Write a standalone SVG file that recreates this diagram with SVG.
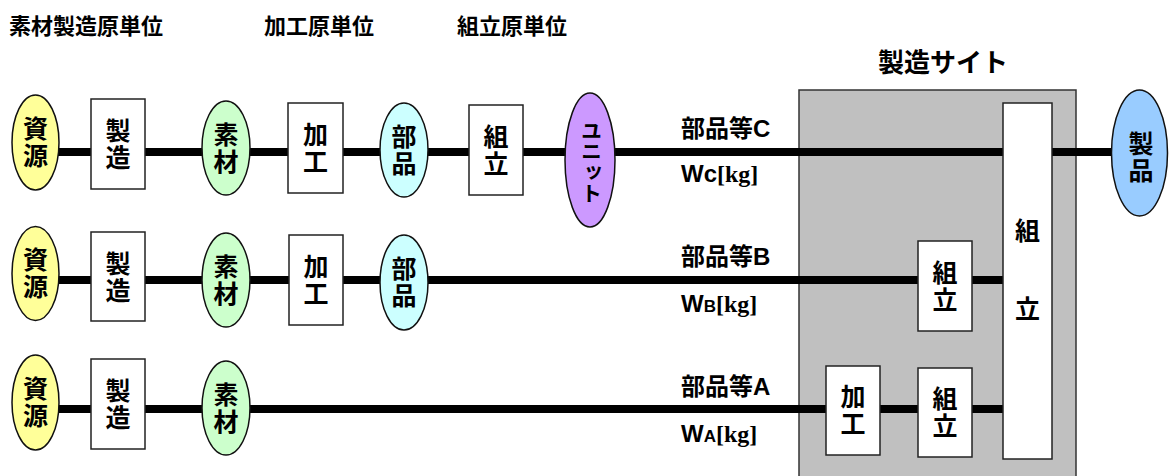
<svg xmlns="http://www.w3.org/2000/svg" width="1170" height="476" viewBox="0 0 1170 476">
<style>
.h{font-family:"Liberation Sans","Noto Sans CJK JP",sans-serif;font-weight:bold;font-size:22px;fill:#000}
.t{font-family:"Liberation Sans","Noto Sans CJK JP",sans-serif;font-weight:bold;font-size:25px;fill:#000;text-anchor:middle;dominant-baseline:central}
.l{font-family:"Liberation Sans","Noto Sans CJK JP",sans-serif;font-weight:bold;font-size:24px;fill:#000}
.kg{font-family:"Liberation Serif",serif;font-weight:bold}
.box{fill:#fff;stroke:#222;stroke-width:1.5}
.ov{stroke:#111;stroke-width:1.5}
.c{stroke:#000;stroke-width:8;fill:none}
</style>
<rect id="site" x="799" y="90" width="277" height="400" fill="#c0c0c0" stroke="#333" stroke-width="1.5"/>
<text class="h" x="9" y="34">素材製造原単位</text>
<text class="h" x="264" y="34">加工原単位</text>
<text class="h" x="457" y="34">組立原単位</text>
<text class="t" x="943" y="63" style="font-size:26px">製造サイト</text>
<g id="connectors">
<line class="c" x1="35" y1="152" x2="1139" y2="152"/>
<line class="c" x1="35" y1="280" x2="1003" y2="280"/>
<line class="c" x1="35" y1="409" x2="1003" y2="409"/>
</g>
<text class="l" x="681" y="137">部品等C</text>
<text class="l" x="681" y="182">Wc<tspan class="kg">[kg]</tspan></text>
<text class="l" x="681" y="265">部品等B</text>
<text class="l" x="681" y="312">W<tspan style="font-size:17px">B</tspan><tspan class="kg">[kg]</tspan></text>
<text class="l" x="681" y="395">部品等A</text>
<text class="l" x="681" y="442">W<tspan style="font-size:17px">A</tspan><tspan class="kg">[kg]</tspan></text>
<g id="r1-shigen"><ellipse class="ov" cx="35.5" cy="142.5" rx="23.5" ry="47.5" fill="#ffff99"/><text class="t" x="35.5" y="129">資</text><text class="t" x="35.5" y="156">源</text></g>
<g id="r1-seizo"><rect class="box" x="91" y="99" width="54" height="90"/><text class="t" x="118" y="131">製</text><text class="t" x="118" y="158">造</text></g>
<g id="r1-sozai"><ellipse class="ov" cx="226" cy="148" rx="24" ry="47" fill="#ccffcc"/><text class="t" x="226" y="135">素</text><text class="t" x="226" y="162">材</text></g>
<g id="r1-kako"><rect class="box" x="288" y="103" width="55" height="90"/><text class="t" x="315.5" y="135">加</text><text class="t" x="315.5" y="162">工</text></g>
<g id="r1-buhin"><ellipse class="ov" cx="404" cy="150" rx="24" ry="47" fill="#ccffff"/><text class="t" x="404" y="137">部</text><text class="t" x="404" y="164">品</text></g>
<g id="r1-kumitate"><rect class="box" x="469" y="105" width="54" height="90"/><text class="t" x="496" y="137">組</text><text class="t" x="496" y="164">立</text></g>
<g id="r1-unit"><ellipse class="ov" cx="590" cy="160" rx="25" ry="67" fill="#cc99ff"/><text class="t" x="590" y="162" style="font-size:21px;writing-mode:vertical-rl">ユニット</text></g>
<g id="seihin"><ellipse class="ov" cx="1139.5" cy="153" rx="28" ry="63" fill="#99ccff"/><text class="t" x="1141" y="144">製</text><text class="t" x="1141" y="171">品</text></g>
<g id="r2-shigen"><ellipse class="ov" cx="35.5" cy="273.5" rx="23.5" ry="47" fill="#ffff99"/><text class="t" x="35.5" y="260">資</text><text class="t" x="35.5" y="287">源</text></g>
<g id="r2-seizo"><rect class="box" x="91" y="232" width="54" height="89"/><text class="t" x="118" y="263.5">製</text><text class="t" x="118" y="290.5">造</text></g>
<g id="r2-sozai"><ellipse class="ov" cx="226" cy="280" rx="24" ry="47" fill="#ccffcc"/><text class="t" x="226" y="267">素</text><text class="t" x="226" y="294">材</text></g>
<g id="r2-kako"><rect class="box" x="289" y="235" width="54" height="90"/><text class="t" x="316" y="267">加</text><text class="t" x="316" y="294">工</text></g>
<g id="r2-buhin"><ellipse class="ov" cx="404" cy="282.5" rx="24" ry="47.5" fill="#ccffff"/><text class="t" x="404" y="269">部</text><text class="t" x="404" y="296">品</text></g>
<g id="r2-kumitate"><rect class="box" x="918" y="241" width="54" height="90"/><text class="t" x="945" y="273">組</text><text class="t" x="945" y="300">立</text></g>
<g id="r3-shigen"><ellipse class="ov" cx="35.5" cy="402.5" rx="23.5" ry="47.5" fill="#ffff99"/><text class="t" x="35.5" y="389">資</text><text class="t" x="35.5" y="416">源</text></g>
<g id="r3-seizo"><rect class="box" x="91" y="359" width="54" height="90"/><text class="t" x="118" y="391">製</text><text class="t" x="118" y="418">造</text></g>
<g id="r3-sozai"><ellipse class="ov" cx="226" cy="408" rx="24" ry="47" fill="#ccffcc"/><text class="t" x="226" y="395">素</text><text class="t" x="226" y="422">材</text></g>
<g id="r3-kako"><rect class="box" x="826" y="366" width="54" height="89"/><text class="t" x="853" y="397">加</text><text class="t" x="853" y="424">工</text></g>
<g id="r3-kumitate"><rect class="box" x="918" y="368" width="54" height="89"/><text class="t" x="945" y="399">組</text><text class="t" x="945" y="426">立</text></g>
<g id="final-kumitate"><rect class="box" x="1003" y="103" width="49" height="356"/><text class="t" x="1027.5" y="231">組</text><text class="t" x="1027.5" y="309">立</text></g>
</svg>
